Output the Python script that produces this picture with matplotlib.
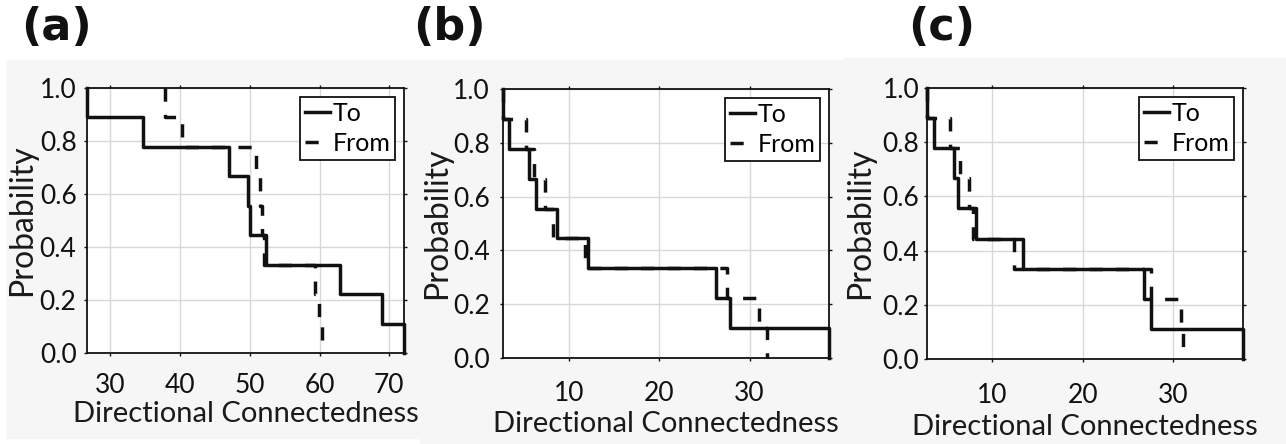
import numpy as np
import matplotlib
matplotlib.use("Agg")
import matplotlib.pyplot as plt
from matplotlib.patches import Rectangle

# directional connectedness values (9 per series)
a_to = [26.7, 34.7, 47.1, 49.7, 50.1, 52.3, 62.9, 68.9, 72.1]
a_from = [37.9, 40.3, 50.9, 51.5, 51.8, 52.0, 59.4, 59.9, 60.4]
b_to = [2.7, 3.4, 5.6, 6.3, 8.7, 12.1, 26.3, 27.8, 38.8]
b_from = [2.7, 5.2, 6.1, 7.4, 8.2, 11.8, 27.5, 31.1, 31.9]
c_to = [2.8, 3.6, 5.8, 6.2, 8.2, 13.4, 26.8, 27.5, 37.7]
c_from = [2.8, 5.3, 6.4, 7.4, 7.9, 12.4, 27.5, 30.8, 31.1]

panel_labels = ["(a)", "(b)", "(c)"]
a_xticks = [30, 40, 50, 60, 70]
bc_xticks = [10, 20, 30]
yticks = [0.0, 0.2, 0.4, 0.6, 0.8, 1.0]

plt.rcParams["font.family"] = ["Lato", "DejaVu Sans"]

W, H = 1286, 444
fig = plt.figure(figsize=(W / 100, H / 100), dpi=100)


def px_rect(l, t, r, b):
    return [l / W, 1 - b / H, (r - l) / W, (b - t) / H]


# faint grey backing panels of the three sub-figures
for (l, t, r, b) in [(7, 60, 420, 438), (420, 60, 845, 444), (845, 58, 1286, 444)]:
    fig.patches.append(Rectangle((l / W, 1 - b / H), (r - l) / W, (b - t) / H,
                                 transform=fig.transFigure, color="#f6f6f6",
                                 zorder=-10))


def survival(ax, vals, ls, label):
    v = np.sort(np.asarray(vals))
    n = len(v)
    xs = np.r_[v[0], v]
    ys = 1 - np.arange(n + 1) / n
    ax.step(xs, ys, where="post", color="#111111", lw=2.5, ls=ls,
            label=label, clip_on=False, zorder=3)


panels = [
    (px_rect(87, 88, 404, 353), a_to, a_from, a_xticks, -0.158, 5, 12, 2),
    (px_rect(503, 89, 829, 358), b_to, b_from, bc_xticks, -0.156, 7, 14, 4),
    (px_rect(927, 88, 1243, 359), c_to, c_from, bc_xticks, -0.165, 3, 15, 4),
]
label_x = [21, 413, 908]

for i, (rect, to, frm, xt, ylx, ypad, xpad, lpad) in enumerate(panels):
    ax = fig.add_axes(rect)
    ax.set_facecolor("white")
    survival(ax, to, "-", "To")
    survival(ax, frm, (0, (3.8, 3.8)), "From")
    ax.set_xlim(min(min(to), min(frm)), max(max(to), max(frm)))
    ax.set_ylim(0, 1)
    ax.set_xticks(xt)
    ax.set_yticks(yticks)
    ax.yaxis.set_major_formatter(matplotlib.ticker.FormatStrFormatter("%.1f"))
    ax.grid(True, color="#d8d8d8", lw=1)
    ax.set_axisbelow(True)
    for s in ax.spines.values():
        s.set_linewidth(1.3)
        s.set_color("#111111")
    ax.tick_params(direction="out", length=2.5, width=1, top=True, right=True,
                   labelsize=19, colors="#111111")
    ax.tick_params(axis="y", pad=ypad)
    ax.tick_params(axis="x", pad=xpad)
    ax.set_xlabel("Directional Connectedness", fontsize=21, labelpad=lpad,
                  color="#1a1a1a")
    ax.set_ylabel("Probability", fontsize=23, color="#1a1a1a")
    ax.yaxis.set_label_coords(ylx, 0.5)
    leg = ax.legend(loc="upper right", fontsize=18, handlelength=1.0,
                    handletextpad=0.1, labelspacing=0.3, borderpad=0.2,
                    borderaxespad=0.35, fancybox=False, framealpha=1)
    leg.get_frame().set_edgecolor("#111111")
    leg.get_frame().set_linewidth(1.3)
    fig.text(label_x[i] / W, 1 - 6 / H, panel_labels[i], fontsize=32,
             fontweight="bold", family="DejaVu Sans", va="top", ha="left",
             color="#111111")

fig.savefig("out.png", dpi=100)
